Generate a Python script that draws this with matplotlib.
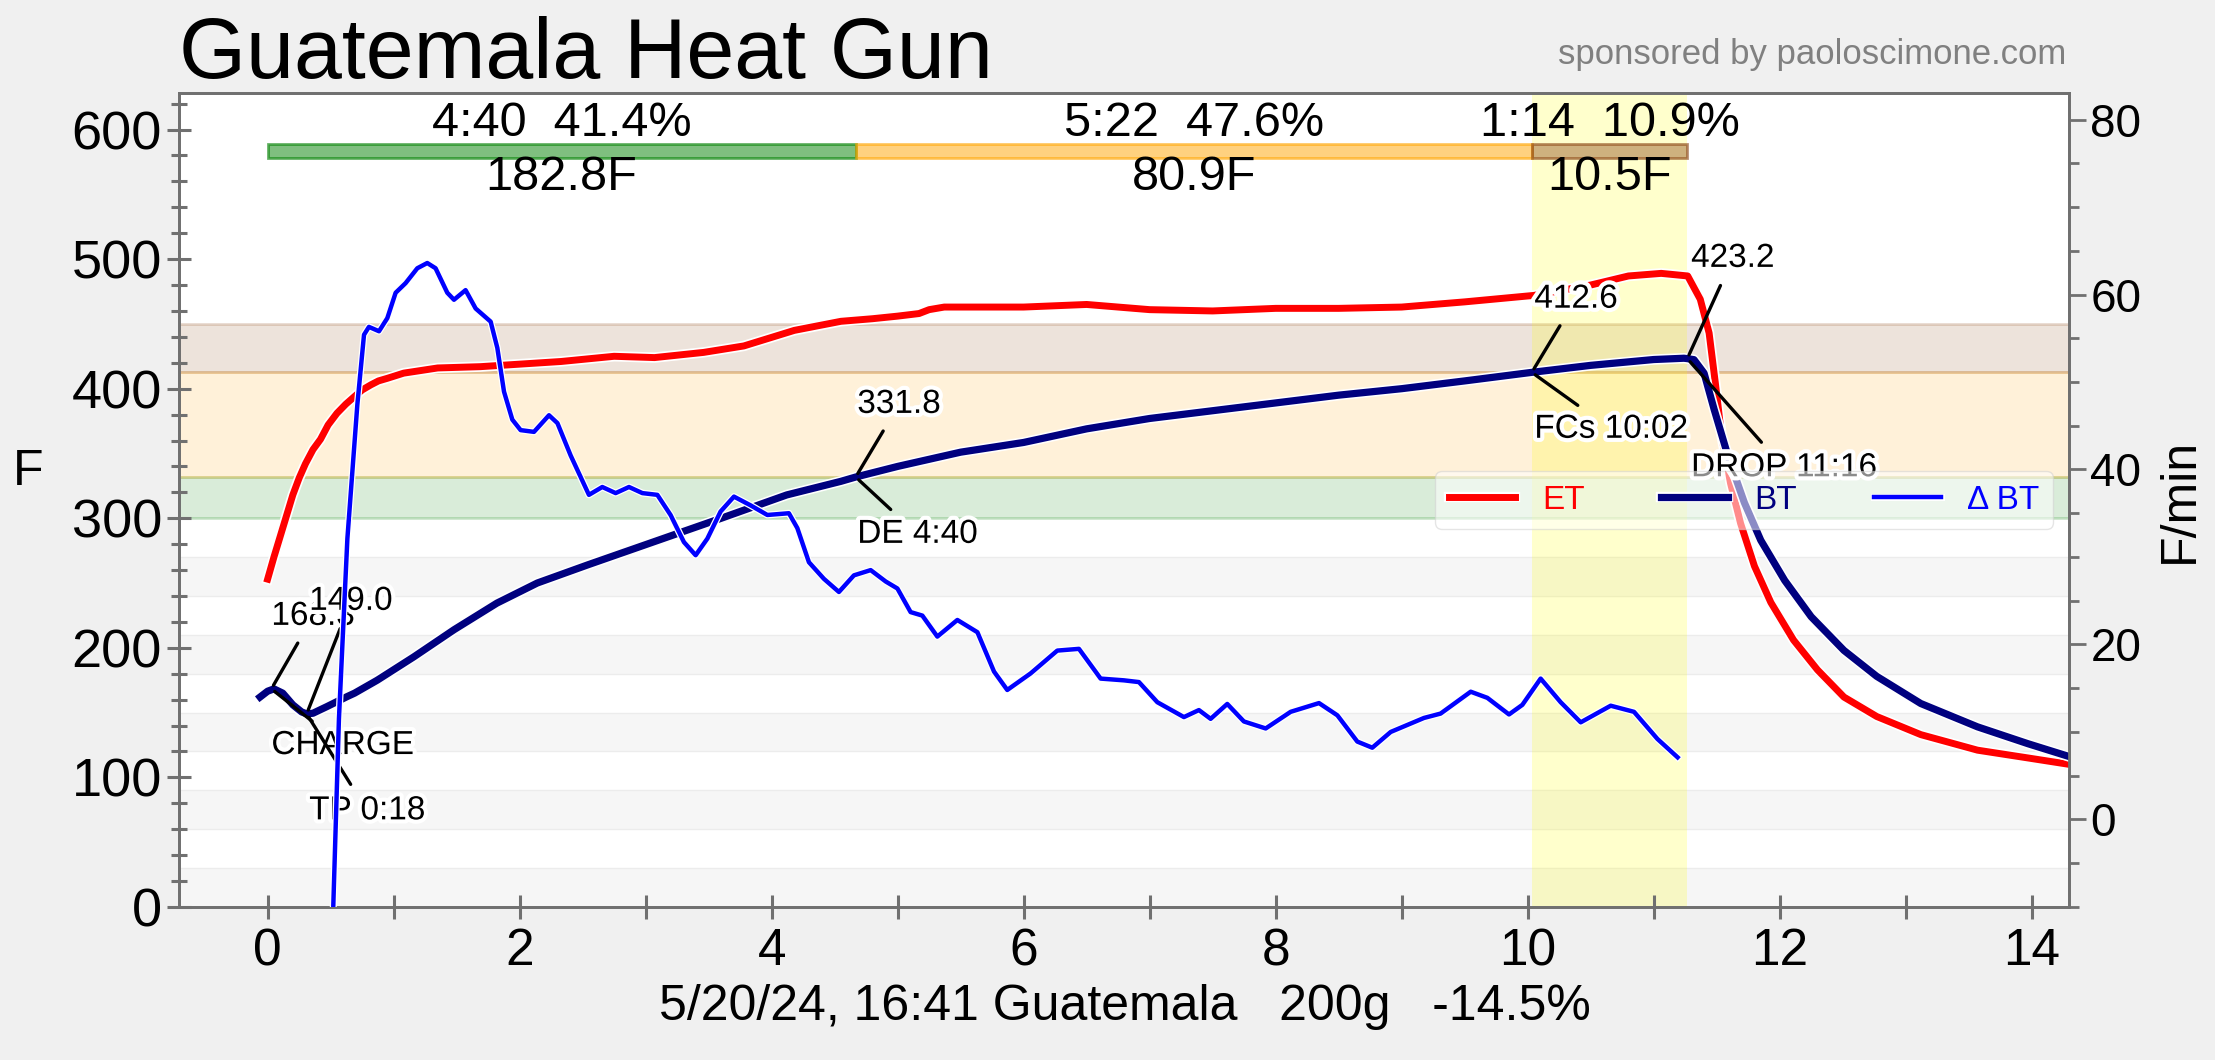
import matplotlib
matplotlib.use("Agg")
import numpy as np
import matplotlib.pyplot as plt
import matplotlib.patheffects as pe
from matplotlib.colors import to_rgba
from matplotlib.ticker import MultipleLocator

plt.rcParams['font.family'] = ['Liberation Sans', 'DejaVu Sans']

# ==== data ====
et_time = [0.0, 0.05, 0.1, 0.15, 0.2, 0.25, 0.3, 0.36, 0.42, 0.48, 0.55, 0.62, 0.69,
           0.75, 0.82, 0.88, 0.95, 1.08, 1.35, 1.69, 2.01, 2.33, 2.75, 3.07, 3.46,
           3.78, 4.18, 4.55, 4.8, 5.0, 5.17, 5.25, 5.37, 6.0, 6.5, 7.0,
           7.5, 8.0, 8.5, 9.0, 9.5, 10.05, 10.5, 10.8, 11.06, 11.27, 11.37, 11.44,
           11.49, 11.54, 11.61, 11.69, 11.8, 11.93, 12.11, 12.3, 12.51, 12.77, 13.12,
           13.57, 13.97, 14.3]
et_temp = [253, 270, 286, 302, 318, 331, 342, 353, 361, 372, 381, 388, 394,
           399, 403, 406, 408, 412, 416, 417, 419, 421, 425, 424, 428,
           433, 445, 452, 454, 456, 458, 461, 463, 463, 465, 461,
           460, 462, 462, 463, 467, 472, 480, 487, 489, 487, 469, 443,
           404, 363, 327, 296, 263, 235, 206, 183, 162, 147, 133,
           121, 115, 110]

bt_time = [-0.06, 0.0, 0.05, 0.12, 0.2, 0.27, 0.31, 0.36, 0.47, 0.63, 0.69, 0.87,
           1.16, 1.48, 1.82, 2.14, 2.54, 3.07, 3.6, 4.12, 4.55, 4.667, 5.0, 5.5,
           6.0, 6.5, 7.0, 7.5, 8.0, 8.5, 9.0, 9.5, 10.033, 10.5, 11.0, 11.24,
           11.267, 11.32, 11.4, 11.48, 11.59, 11.72, 11.85, 12.04, 12.25, 12.51,
           12.77, 13.12, 13.57, 13.97, 14.3]
bt_temp = [162, 166.5, 168.3, 165, 156, 150.5, 149.0, 149.5, 154.6, 162.3, 165, 175,
           193, 214, 234.5, 250, 264, 282, 300, 318, 328.5, 331.8, 340, 351,
           358.5, 369, 377, 383, 389, 395, 400, 406, 412.6, 418, 422.5, 423.5,
           423.2, 422.4, 412, 384, 348, 312, 283, 252, 224, 198,
           178, 157, 139, 126, 116]

dbt_time = [0.5, 0.566, 0.633, 0.712, 0.765, 0.804, 0.884, 0.95, 1.016, 1.095, 1.188,
            1.267, 1.333, 1.426, 1.479, 1.571, 1.651, 1.77, 1.823, 1.876, 1.942,
            2.008, 2.114, 2.233, 2.3, 2.405, 2.55, 2.656, 2.762, 2.868, 2.974,
            3.093, 3.198, 3.304, 3.397, 3.49, 3.595, 3.701, 3.833, 3.966, 4.137,
            4.204, 4.296, 4.415, 4.534, 4.653, 4.786, 4.905, 4.998, 5.103, 5.196,
            5.315, 5.474, 5.633, 5.765, 5.87, 6.056, 6.267, 6.439, 6.611, 6.796,
            6.915, 7.061, 7.272, 7.391, 7.484, 7.616, 7.748, 7.921, 8.119, 8.344,
            8.49, 8.648, 8.767, 8.913, 9.177, 9.309, 9.548, 9.68, 9.852, 9.958,
            10.103, 10.262, 10.421, 10.659, 10.844, 11.03, 11.19]
dbt_rate = [-20, 11.5, 32.1, 47.4, 55.4, 56.3, 55.8, 57.3, 60.2, 61.3, 63.0,
            63.6, 63.0, 60.2, 59.4, 60.5, 58.4, 56.9, 53.9, 48.9, 45.7,
            44.5, 44.3, 46.2, 45.3, 41.6, 37.1, 38.0, 37.3, 38.0, 37.3,
            37.1, 34.8, 31.7, 30.2, 32.1, 35.2, 36.9, 35.9, 34.8, 35.0,
            33.3, 29.4, 27.5, 26.0, 27.9, 28.5, 27.2, 26.4, 23.7, 23.3,
            20.9, 22.8, 21.4, 16.9, 14.8, 16.7, 19.3, 19.5, 16.1, 15.9,
            15.7, 13.4, 11.7, 12.5, 11.5, 13.2, 11.2, 10.4, 12.3, 13.3,
            11.9, 8.9, 8.2, 10.0, 11.6, 12.1, 14.6, 13.9, 12.0, 13.1,
            16.1, 13.4, 11.1, 13.0, 12.3, 9.2, 7.1]

# phases: start times, texts above / below the bar
phase_time = [0.0, 4.667, 10.033, 11.267]
phase_top = ["4:40  41.4%", "5:22  47.6%", "1:14  10.9%"]
phase_bottom = ["182.8F", "80.9F", "10.5F"]
band_temp = [300.0, 331.8, 412.6, 450.0]

# events
event_names = ["CHARGE", "TP 0:18", "DE 4:40", "FCs 10:02", "DROP 11:16"]
event_time = [0.03, 0.31, 4.667, 10.033, 11.267]
event_temp = [168.3, 149.0, 331.8, 412.6, 423.2]

title = "Guatemala Heat Gun"
xlabel = "5/20/24, 16:41 Guatemala   200g   -14.5%"

# ==== figure ====
fig = plt.figure(figsize=(22.15, 10.6), dpi=100, facecolor='#f0f0f0')
ax = fig.add_axes([0.081, 0.1444, 0.8533, 0.7676])
ax.set_facecolor('white')

phase_colors = ['#008000', '#ffa500', '#8b4513']
grey = '#707070'

# background stripes every 30 deg
for lo in np.arange(0, 300, 60):
    ax.axhspan(lo, lo + 30, facecolor='#f6f6f6', edgecolor='#ececec', lw=1, zorder=0)

# phase temperature bands
for i in range(3):
    ax.axhspan(band_temp[i], band_temp[i + 1], facecolor=to_rgba(phase_colors[i], 0.15),
               edgecolor=to_rgba(phase_colors[i], 0.2), lw=2, zorder=0.5)

# development (FCs -> DROP) span
ax.axvspan(phase_time[2], phase_time[3], color='yellow', alpha=0.2, lw=0, zorder=0.6)

# phase bar on top
for i in range(3):
    ax.barh(583.5, phase_time[i + 1] - phase_time[i], left=phase_time[i], height=11,
            color=to_rgba(phase_colors[i], 0.5 if i < 2 else 0.42),
            edgecolor=to_rgba(phase_colors[i], 0.6), lw=2, zorder=1)
    xc = (phase_time[i] + phase_time[i + 1]) / 2
    ax.text(xc, 595, phase_top[i], ha='center', va='baseline', fontsize=35, zorder=6)
    ax.text(xc, 553, phase_bottom[i], ha='center', va='baseline', fontsize=35, zorder=6)

halo = lambda w: [pe.withStroke(linewidth=w, foreground='white')]

l_et, = ax.plot(et_time, et_temp, color='#ff0000', lw=5.0, path_effects=halo(7.5),
                solid_joinstyle='round', label='ET', zorder=4)
l_bt, = ax.plot(bt_time, bt_temp, color='#00007f', lw=5.2, path_effects=halo(7.5),
                solid_joinstyle='round', label='BT', zorder=4)

# event annotations: (dx, dy temp text, dy event text)
offsets = [(0.0, 49.4, -50.3), (0.02, 80.3, -81.4), (0.013, 49.5, -50.8),
           (0.02, 49.9, -50.5), (0.03, 70.8, -90.8)]
arrow = dict(arrowstyle='-', color='black', lw=2.4, shrinkA=7, shrinkB=3)
for name, t, temp, (dx, dyt, dye) in zip(event_names, event_time, event_temp, offsets):
    ax.annotate("%.1f" % temp, xy=(t, temp), xytext=(t + dx, temp + dyt),
                ha='left', va='baseline', fontsize=24, arrowprops=arrow,
                path_effects=halo(6), zorder=7)
    ax.annotate(name, xy=(t, temp), xytext=(t + dx, temp + dye),
                ha='left', va='baseline', fontsize=24, arrowprops=arrow,
                path_effects=halo(6), zorder=7)

ax.set_xlim(-0.7, 14.3)
ax.set_ylim(0, 628)
ax.xaxis.set_major_locator(MultipleLocator(2))
ax.xaxis.set_minor_locator(MultipleLocator(1))
ax.yaxis.set_major_locator(MultipleLocator(100))
ax.yaxis.set_minor_locator(MultipleLocator(20))
ax.tick_params(axis='both', which='both', direction='inout', color=grey, width=2.2)
ax.tick_params(axis='y', which='major', length=17, labelsize=39, pad=4)
ax.tick_params(axis='y', which='minor', length=11)
ax.tick_params(axis='x', which='both', length=17, labelsize=37, pad=6)

for s in ax.spines.values():
    s.set_color(grey)
    s.set_linewidth(2)

ax.set_xlabel(xlabel, fontsize=36, labelpad=6)
ax.set_ylabel('F', rotation=0, fontsize=36, ha='center', va='center')
ax.yaxis.set_label_coords(-0.08, 0.534)

# rate of rise on the second axis
ax2 = ax.twinx()
l_dbt, = ax2.plot(dbt_time, dbt_rate, color='#0000ff', lw=3.2, path_effects=halo(5),
                  solid_joinstyle='round', label='\u0394 BT', zorder=4)
ax2.set_ylim(-10, 83)
ax2.yaxis.set_major_locator(MultipleLocator(20))
ax2.yaxis.set_minor_locator(MultipleLocator(5))
ax2.tick_params(axis='y', which='major', direction='out', length=12, width=2, color=grey,
                labelsize=33, pad=3)
ax2.tick_params(axis='y', which='minor', direction='out', length=7, width=2, color=grey)
for s in ax2.spines.values():
    s.set_color(grey)
    s.set_linewidth(2)
ax2.set_ylabel('F/min', fontsize=36)
ax2.yaxis.set_label_coords(1.046, 0.5)

leg = ax2.legend(handles=[l_et, l_bt, l_dbt], loc='center right', ncol=3, fontsize=24,
                 framealpha=0.55, edgecolor='#d0d0d0', handlelength=2.0,
                 columnspacing=2.3, handletextpad=0.8)
for txt, c in zip(leg.get_texts(), ['#ff0000', '#00007f', '#0000ff']):
    txt.set_color(c)
leg.set_zorder(10)

fig.text(0.081, 0.9267, title, fontsize=62, ha='left', va='baseline')
fig.text(0.933, 0.94, 'sponsored by paoloscimone.com', fontsize=25, color='#808080',
         ha='right', va='baseline')

fig.savefig('out.png', dpi=100, facecolor=fig.get_facecolor())
